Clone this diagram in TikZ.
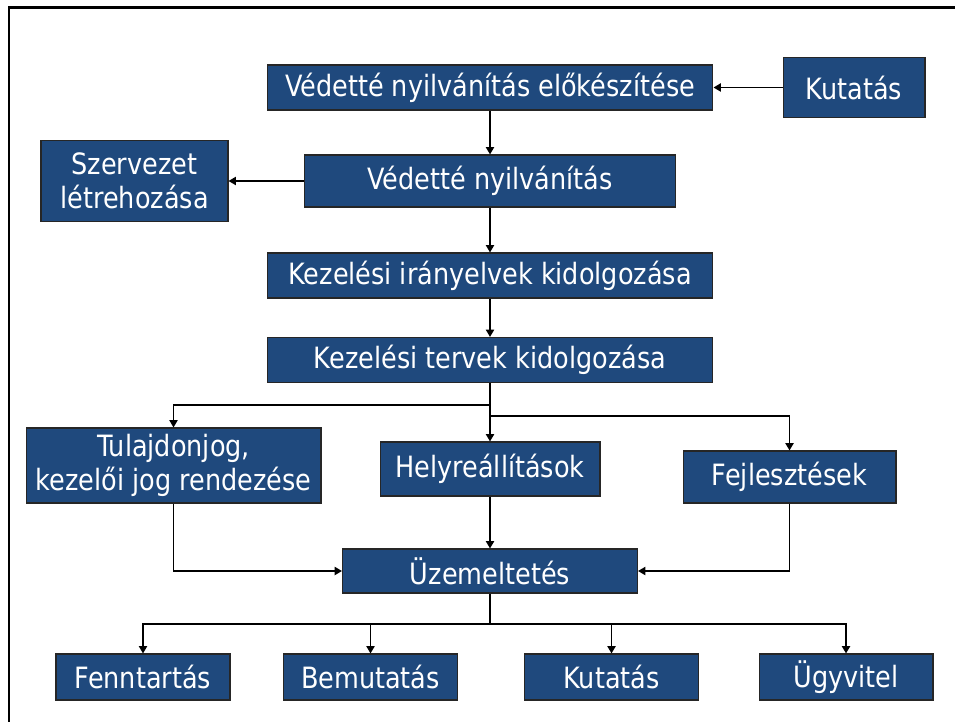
\documentclass[tikz,border=0pt]{standalone}
\usepackage{fontspec}
\setmainfont[FakeStretch=0.87]{DejaVu Sans}
\usetikzlibrary{arrows.meta}
\definecolor{boxblue}{RGB}{31,73,125}
\begin{document}
\begin{tikzpicture}[x=0.02cm,y=-0.02cm]
\tikzset{box/.style = {draw=black!85, line width=0.6pt, fill=boxblue, text=white, inner sep=0pt,
    align=center, font=\fontsize{16.7}{19.5}\selectfont},
  arr/.style = {line width=1.1pt, -{Triangle[length=4.2pt,width=4.6pt]}},
  wire/.style = {line width=1.1pt}}
\useasboundingbox (0,0) rectangle (955,722);
\draw[line width=1.7pt] (9,722) -- (9,8) -- (955,8);
\node[box,minimum width=8.92cm,minimum height=0.9cm] (prep) at (490,87.5) {Védetté nyilvánítás előkészítése};
\node[box,minimum width=2.84cm,minimum height=1.2cm] (kut) at (854,87.5) {Kutatás};
\node[box,minimum width=7.42cm,minimum height=1.04cm] (ved) at (490,181) {Védetté nyilvánítás};
\node[box,minimum width=3.74cm,minimum height=1.62cm] (szerv) at (134.5,181) {Szervezet\\létrehozása};
\node[box,minimum width=8.92cm,minimum height=0.9cm] (iran) at (490,275.5) {Kezelési irányelvek kidolgozása};
\node[box,minimum width=8.92cm,minimum height=0.9cm] (terv) at (490,360) {Kezelési tervek kidolgozása};
\node[box,minimum width=5.9cm,minimum height=1.5cm] (tul) at (173.5,465.5) {Tulajdonjog,\\kezelői jog rendezése};
\node[box,minimum width=4.4cm,minimum height=1.08cm] (hely) at (490,469) {Helyreállítások};
\node[box,minimum width=4.26cm,minimum height=1.04cm] (fej) at (789.5,477) {Fejlesztések};
\node[box,minimum width=5.9cm,minimum height=0.88cm] (uzem) at (490,571) {Üzemeltetés};
\node[box,minimum width=3.48cm,minimum height=0.92cm] (fenn) at (143,677) {Fenntartás};
\node[box,minimum width=3.48cm,minimum height=0.92cm] (bem) at (370.5,677) {Bemutatás};
\node[box,minimum width=3.48cm,minimum height=0.92cm] (kut2) at (611.5,677) {Kutatás};
\node[box,minimum width=3.48cm,minimum height=0.92cm] (ugy) at (846,677) {Ügyvitel};
\coordinate (s1) at (490,405);
\coordinate (s2) at (490,416);
\coordinate (s3) at (490,624);
% upper chain
\draw[arr] (kut) -- (prep);
\draw[arr] (prep) -- (ved);
\draw[arr] (ved) -- (szerv);
\draw[arr] (ved) -- (iran);
\draw[arr] (iran) -- (terv);
% branches
\draw[arr] (terv) -- (hely);
\draw[arr] (s1) -| (tul);
\draw[arr] (s2) -| (fej);
\draw[arr] (tul) |- (uzem);
\draw[arr] (hely) -- (uzem);
\draw[arr] (fej) |- (uzem);
% bottom row
\draw[wire] (uzem) -- (s3);
\foreach \n in {fenn,bem,kut2,ugy}
  \draw[arr] (s3) -| (\n);
\end{tikzpicture}
\end{document}
